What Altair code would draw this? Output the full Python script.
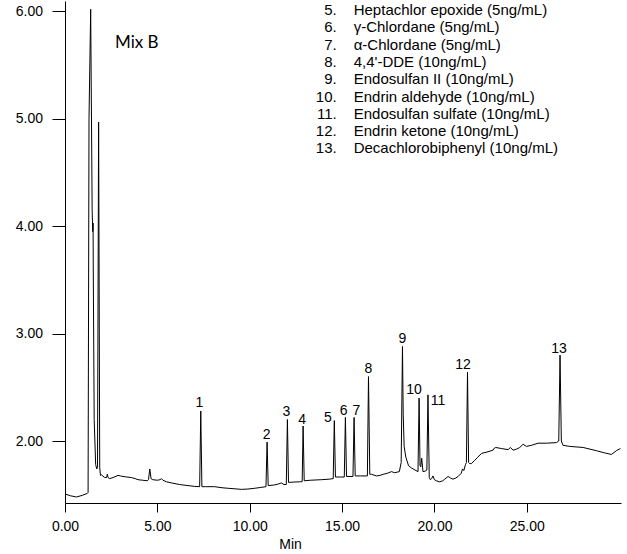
import altair as alt
import pandas as pd

# ---- chromatogram trace (retention time in min, detector response) ----
rt = [0.00, 0.30, 0.62, 0.95, 1.21, 1.25, 1.30, 1.39, 1.47, 1.50, 1.52, 1.53, 1.58, 1.66, 1.72,
      1.76, 1.82, 1.88, 1.92, 1.97, 2.15, 2.25, 2.29, 2.33, 2.42, 2.60, 2.87, 3.00, 3.14, 3.35,
      3.59, 3.80, 3.95, 4.20, 4.45, 4.52, 4.59, 4.66, 4.75, 5.00, 5.15, 5.22, 5.30, 5.50, 5.76,
      6.20, 6.66, 7.00, 7.29, 7.35, 7.41, 7.60, 8.10, 8.50, 8.83, 9.20, 9.55, 9.90, 10.27, 10.60,
      10.88, 10.94, 11.00, 11.30, 11.55, 11.72, 11.85, 11.98, 12.04, 12.10, 12.40, 12.70, 12.84, 12.89, 12.95,
      13.30, 13.88, 14.30, 14.52, 14.58, 14.64, 14.90, 15.12, 15.18, 15.24, 15.59, 15.65, 15.71, 16.00, 16.37,
      16.43, 16.50, 16.60, 16.86, 17.05, 17.22, 17.45, 17.67, 17.85, 18.10, 18.20, 18.27, 18.31, 18.36, 18.45,
      18.60, 18.75, 18.95, 19.11, 19.17, 19.22, 19.26, 19.31, 19.38, 19.50, 19.59, 19.65, 19.72, 19.78, 19.85,
      19.92, 20.00, 20.10, 20.29, 20.45, 20.56, 20.74, 20.88, 21.00, 21.15, 21.28, 21.45, 21.52, 21.59, 21.68,
      21.73, 21.79, 21.85, 21.91, 22.00, 22.18, 22.35, 22.55, 22.90, 23.17, 23.25, 23.32, 23.63, 23.99, 24.11,
      24.26, 24.45, 24.62, 24.80, 24.98, 25.25, 25.61, 26.06, 26.60, 26.73, 26.80, 26.87, 26.96, 27.33, 28.05,
      28.77, 29.20, 29.58, 29.85, 30.07]
signal = [1.507, 1.490, 1.479, 1.495, 1.513, 1.520, 5.000, 6.020, 4.150, 3.950, 4.030, 3.620, 2.200, 1.780, 1.740,
          1.760, 4.970, 1.750, 1.680, 1.685, 1.660, 1.660, 1.690, 1.660, 1.650, 1.660, 1.680, 1.675, 1.670, 1.665,
          1.660, 1.650, 1.640, 1.635, 1.630, 1.640, 1.740, 1.650, 1.640, 1.635, 1.640, 1.650, 1.635, 1.620, 1.610,
          1.595, 1.585, 1.578, 1.575, 2.280, 1.575, 1.575, 1.575, 1.565, 1.560, 1.555, 1.550, 1.553, 1.560, 1.568,
          1.575, 1.990, 1.585, 1.590, 1.600, 1.610, 1.595, 1.595, 2.200, 1.615, 1.618, 1.620, 1.622, 2.140, 1.630,
          1.635, 1.640, 1.645, 1.650, 2.190, 1.665, 1.665, 1.665, 2.220, 1.670, 1.670, 2.220, 1.675, 1.675, 1.675,
          2.600, 1.690, 1.690, 1.675, 1.680, 1.690, 1.700, 1.715, 1.705, 1.715, 1.800, 2.880, 2.250, 1.950, 1.850,
          1.770, 1.750, 1.730, 1.715, 2.400, 1.770, 1.760, 1.840, 1.715, 1.720, 1.730, 2.430, 1.660, 1.640, 1.650,
          1.675, 1.640, 1.630, 1.620, 1.630, 1.645, 1.670, 1.655, 1.645, 1.655, 1.670, 1.700, 1.740, 1.725, 1.780,
          1.800, 2.640, 1.800, 1.790, 1.790, 1.820, 1.850, 1.885, 1.900, 1.915, 1.935, 1.940, 1.930, 1.920, 1.940,
          1.915, 1.925, 1.940, 1.970, 1.950, 1.960, 1.980, 1.980, 1.985, 2.000, 2.800, 2.000, 1.960, 1.950, 1.940,
          1.910, 1.890, 1.875, 1.910, 1.930]

# ---- numbered peaks ----
peak_ids = ["1", "2", "3", "4", "5", "6", "7", "8", "9", "10", "11", "12", "13"]
peak_rt = [7.35, 10.94, 12.04, 12.89, 14.58, 15.18, 15.65, 16.43, 18.27, 19.17, 19.65, 21.79, 26.80]
peak_top = [2.28, 1.99, 2.20, 2.14, 2.19, 2.22, 2.22, 2.60, 2.88, 2.40, 2.43, 2.64, 2.80]
# label nudges in pixels (right, down) relative to the apex
label_dx = [-1.5, -0.5, -1, -1, -6.5, -1.7, 2.4, 0, 0, -5, 10, -4.4, -1]
label_dy = [-4.3, -3.3, -4, -2.4, 1.7, -2.3, -2.3, -3.7, -3.4, -4.3, 10.4, -3.4, -1.7]

# ---- compound list (visible part) ----
cmp_nums = ["5.", "6.", "7.", "8.", "9.", "10.", "11.", "12.", "13."]
cmp_names = ["Heptachlor epoxide (5ng/mL)", "\u03b3-Chlordane (5ng/mL)", "\u03b1-Chlordane (5ng/mL)",
             "4,4'-DDE (10ng/mL)", "Endosulfan II (10ng/mL)", "Endrin aldehyde (10ng/mL)",
             "Endosulfan sulfate (10ng/mL)", "Endrin ketone (10ng/mL)", "Decachlorobiphenyl (10ng/mL)"]

x_ticks = [0, 5, 10, 15, 20, 25]
y_ticks = [2, 3, 4, 5, 6]

W, H = 556, 502
XDOM = [0, 30.1]
YDOM = [1.423, 6.097]
FONT = "Liberation Sans"

px_per_x = W / (XDOM[1] - XDOM[0])
px_per_y = H / (YDOM[1] - YDOM[0])

trace = pd.DataFrame({"t": rt, "v": signal})
labels = pd.DataFrame({
    "id": peak_ids,
    "t": [t + dx / px_per_x for t, dx in zip(peak_rt, label_dx)],
    "v": [v - dy / px_per_y for v, dy in zip(peak_top, label_dy)],
})
legend = pd.DataFrame({"num": cmp_nums, "name": cmp_names, "row": list(range(len(cmp_nums)))})

xs = alt.Scale(domain=XDOM, nice=False, zero=False)
ys = alt.Scale(domain=YDOM, nice=False, zero=False)

line = alt.Chart(trace).mark_line(color="black", strokeWidth=1, clip=True).encode(
    x=alt.X("t:Q", scale=xs, axis=alt.Axis(
        values=x_ticks, format=".2f", title="Min", tickSize=9, labelPadding=7,
        labelFlush=False, labelOverlap=False,
        titleX=225, titleY=45, titleBaseline="alphabetic", titleAlign="center")),
    y=alt.Y("v:Q", scale=ys, axis=alt.Axis(
        values=y_ticks, format=".2f", title=None, tickSize=13, labelPadding=9.5,
        labelFlush=False, labelOverlap=False)),
)

peak_text = alt.Chart(labels).mark_text(
    font=FONT, fontSize=14, color="black", align="center", baseline="alphabetic"
).encode(
    x=alt.X("t:Q", scale=xs),
    y=alt.Y("v:Q", scale=ys, axis=None),
    text="id:N",
)

leg_y = alt.Y("row:Q", scale=alt.Scale(domain=[0, 8], range=[14, 14 + 8 * 17.3]), axis=None)
leg_num = alt.Chart(legend).mark_text(
    font=FONT, fontSize=15, color="black", align="right", baseline="alphabetic"
).encode(x=alt.value(271.7), y=leg_y, text="num:N")
leg_name = alt.Chart(legend).mark_text(
    font=FONT, fontSize=15, color="black", align="left", baseline="alphabetic"
).encode(x=alt.value(288.7), y=leg_y, text="name:N")

mix = alt.Chart(pd.DataFrame({"label": ["Mix B"]})).mark_text(
    font="Lato", fontSize=17, color="black", align="left", baseline="alphabetic"
).encode(x=alt.value(50), y=alt.value(47), text="label:N")

chart = alt.layer(line, peak_text, leg_num, leg_name, mix).resolve_scale(
    y="independent"
).properties(
    width=W, height=H,
    autosize=alt.AutoSizeParams(type="none"),
    padding={"left": 65, "top": 1, "right": 6, "bottom": 51},
).configure_view(stroke=None).configure_axis(
    grid=False, domainColor="black", tickColor="black", labelColor="black",
    titleColor="black", labelFont=FONT, titleFont=FONT, labelFontSize=14,
    titleFontSize=14, titleFontWeight="normal", domainWidth=1, tickWidth=1,
)

chart.save("out.html", embed_options={"renderer": "svg", "actions": False})
